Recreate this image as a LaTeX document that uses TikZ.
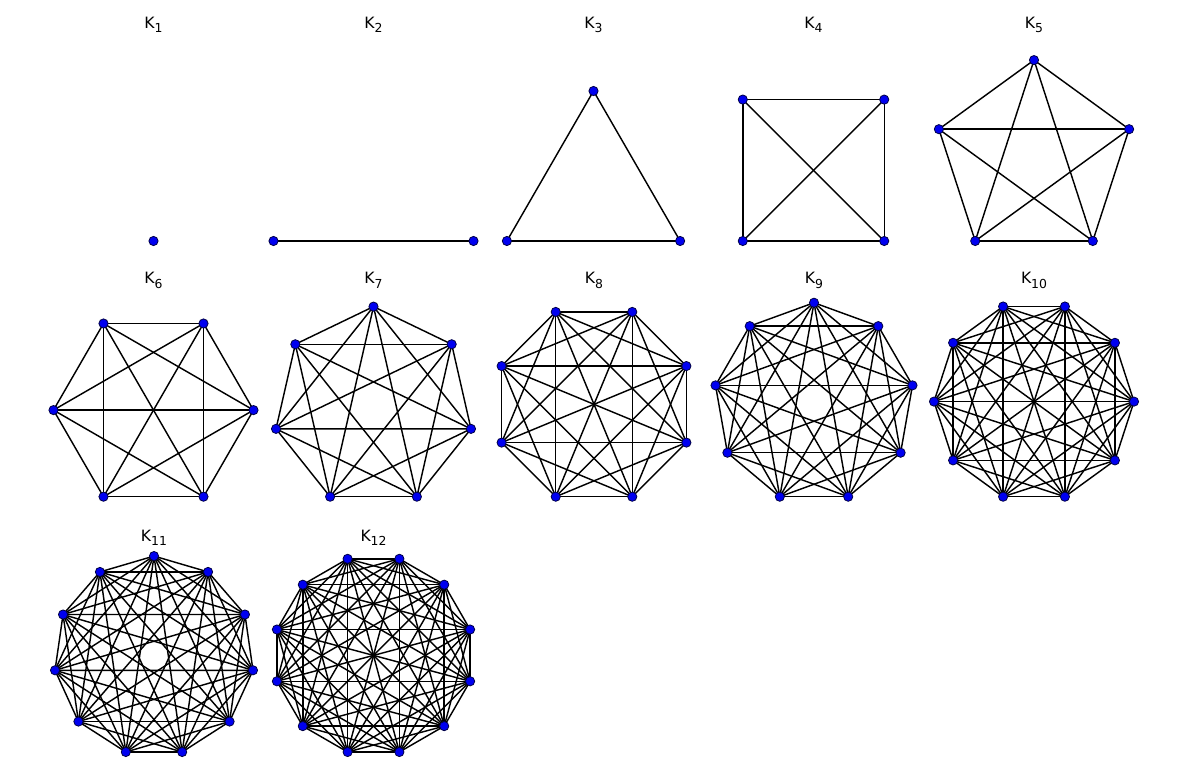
\documentclass[tikz,border=0pt]{standalone}
\usepackage{fontspec}
\setmainfont{DejaVu Sans}
\usetikzlibrary{backgrounds}
\definecolor{VERTEX-BLUE}{RGB}{0,0,240}
\definecolor{VERTEX-RIM}{RGB}{0,0,70}

\tikzset{
  vertex/.style={circle, fill=VERTEX-BLUE, draw=VERTEX-RIM, line width=0.4pt,
    inner sep=0pt, minimum size=4.6pt},
  edge/.style={black, line width=0.72pt},
  title/.style={font=\fontsize{7.8}{9}\selectfont, inner sep=0pt, anchor=base}
}
\newcommand{\graphname}[1]{K\raisebox{-2.2pt}{\fontsize{6.2}{7}\selectfont #1}}

\begin{document}
\begin{tikzpicture}[x=0.5pt, y=-0.5pt]
  \useasboundingbox (0,0) rectangle (1204,775);

  % complete graphs: n / centre x / lowest y / title baseline
  \foreach \n/\cx/\by/\ty in {1/153.5/241/28.3, 2/373.5/241/28.3, 3/593.5/241/28.3,
      4/813.5/241/28.3, 5/1034/241/28.3, 6/153.5/496.7/284, 7/373.5/496.7/284,
      8/594/496.7/284, 9/814/496.7/284, 10/1034/496.7/284,
      11/154/752/541, 12/373.5/752/541} {
    \pgfmathsetmacro{\cy}{\by-100*cos(180/\n)}
    % vertices on a circle of radius 100
    \foreach \k in {1,...,\n} {
      \pgfmathsetmacro{\a}{-90+180/\n+360*(\k-1)/\n}
      \node[vertex] (k\n-\k) at ({\cx+100*cos(\a)},{\cy-100*sin(\a)}) {};
    }
    % every pair of vertices joined
    \begin{pgfonlayer}{background}
      \foreach \i in {1,...,\n} {
        \foreach \j in {\i,...,\n} {
          \ifnum\j>\i
            \draw[edge] (k\n-\i.center) -- (k\n-\j.center);
          \fi
        }
      }
    \end{pgfonlayer}
    % title
    \node[title] (t\n) at (\cx,\ty) {\graphname{\n}};
  }
\end{tikzpicture}
\end{document}
